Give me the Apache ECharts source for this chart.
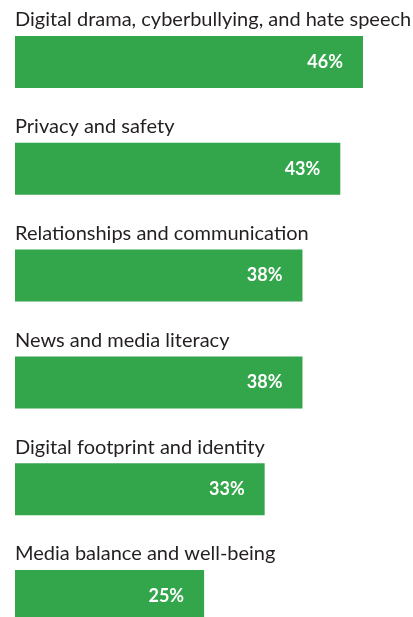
<!DOCTYPE html>
<html><head><meta charset="utf-8">
<script src="https://cdn.jsdelivr.net/npm/echarts@6/dist/echarts.min.js"></script>
<style>html,body{margin:0;padding:0;background:#fff}#c{width:413px;height:617px}</style>
</head><body><div id="c"></div>
<script>
const categories = [
  "Digital drama, cyberbullying, and hate speech",
  "Privacy and safety",
  "Relationships and communication",
  "News and media literacy",
  "Digital footprint and identity",
  "Media balance and well-being"
];
const values = [46, 43, 38, 38, 33, 25];

const chart = echarts.init(document.getElementById('c'), null, {renderer: 'canvas'});
chart.setOption({
  animation: false,
  backgroundColor: '#ffffff',
  grid: {left: 15, top: 8.6, width: 378.25, height: 640.8, outerBoundsMode: 'none', containLabel: false},
  xAxis: {type: 'value', min: 0, max: 50, show: false},
  yAxis: {type: 'category', data: categories, inverse: true, show: false},
  series: [
    {
      type: 'bar',
      data: values,
      barWidth: 52,
      itemStyle: {color: '#33a54b'},
      label: {
        show: true, position: 'insideRight', distance: 20,
        formatter: '{c}%', color: '#ffffff', fontWeight: 'bold',
        fontFamily: 'Lato', fontSize: 18
      },
      z: 2
    },
    {
      type: 'bar',
      data: values,
      barWidth: 52,
      barGap: '-100%',
      silent: true,
      itemStyle: {color: 'rgba(0,0,0,0)'},
      label: {
        show: true, position: [0, -6], align: 'left', verticalAlign: 'bottom',
        formatter: p => p.name, color: '#231f20',
        fontFamily: 'Lato', fontSize: 20
      },
      z: 1
    }
  ]
});
</script></body></html>
